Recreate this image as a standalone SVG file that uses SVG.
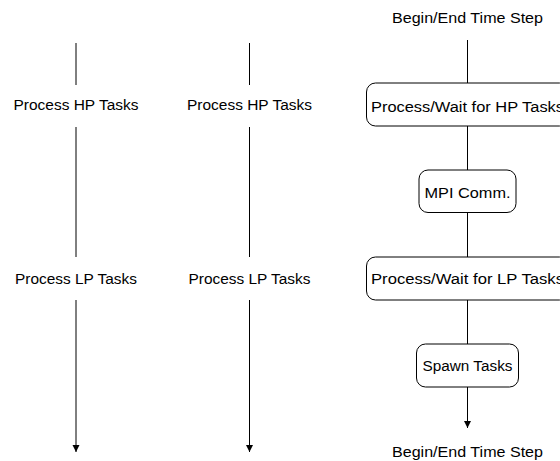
<svg xmlns="http://www.w3.org/2000/svg" width="560" height="461" viewBox="0 0 560 461">
<style>
text{font-family:"Liberation Sans",Arial,sans-serif;font-size:15.5px;fill:#000;text-anchor:middle}
.box{fill:#fff;stroke:#000;stroke-width:1}
.ln{stroke:#000;stroke-width:1;fill:none}
</style>
<defs>
<marker id="ah" markerUnits="userSpaceOnUse" markerWidth="8" markerHeight="8" refX="7" refY="3.5" orient="auto">
<path d="M0,0 L7,3.5 L0,7 Z" fill="#000"/>
</marker>
</defs>
<g id="connectors">
<line class="ln" x1="76" y1="43" x2="76" y2="85"/>
<line class="ln" x1="76" y1="127" x2="76" y2="257"/>
<line class="ln" x1="76" y1="300" x2="76" y2="452" marker-end="url(#ah)"/>
<line class="ln" x1="249.5" y1="43" x2="249.5" y2="85"/>
<line class="ln" x1="249.5" y1="127" x2="249.5" y2="257"/>
<line class="ln" x1="249.5" y1="300" x2="249.5" y2="452" marker-end="url(#ah)"/>
<line class="ln" x1="467.5" y1="40" x2="467.5" y2="83"/>
<line class="ln" x1="467.5" y1="126" x2="467.5" y2="170"/>
<line class="ln" x1="467.5" y1="212.5" x2="467.5" y2="257"/>
<line class="ln" x1="467.5" y1="300" x2="467.5" y2="344"/>
<line class="ln" x1="467.5" y1="387" x2="467.5" y2="428" marker-end="url(#ah)"/>
</g>
<g id="hp1"><text x="76" y="110" textLength="125" lengthAdjust="spacingAndGlyphs">Process HP Tasks</text></g>
<g id="lp1"><text x="76" y="284" textLength="122" lengthAdjust="spacingAndGlyphs">Process LP Tasks</text></g>
<g id="hp2"><text x="249.5" y="110" textLength="125" lengthAdjust="spacingAndGlyphs">Process HP Tasks</text></g>
<g id="lp2"><text x="249.5" y="284" textLength="122" lengthAdjust="spacingAndGlyphs">Process LP Tasks</text></g>
<g id="begin"><text x="467.5" y="23" textLength="151" lengthAdjust="spacingAndGlyphs">Begin/End Time Step</text></g>
<g id="hp3"><rect class="box" x="366.5" y="83" width="202" height="43" rx="9"/><text x="467.5" y="111.5" textLength="193" lengthAdjust="spacingAndGlyphs">Process/Wait for HP Tasks</text></g>
<g id="mpi"><rect class="box" x="419" y="170" width="97" height="42.5" rx="9"/><text x="467.5" y="198" textLength="86" lengthAdjust="spacingAndGlyphs">MPI Comm.</text></g>
<g id="lp3"><rect class="box" x="366.5" y="257" width="202" height="43" rx="9"/><text x="467.5" y="283.5" textLength="193" lengthAdjust="spacingAndGlyphs">Process/Wait for LP Tasks</text></g>
<g id="spawn"><rect class="box" x="416.5" y="344" width="102" height="43" rx="9"/><text x="467.5" y="370.5" textLength="90" lengthAdjust="spacingAndGlyphs">Spawn Tasks</text></g>
<g id="end"><text x="467.5" y="457" textLength="151" lengthAdjust="spacingAndGlyphs">Begin/End Time Step</text></g>
</svg>
